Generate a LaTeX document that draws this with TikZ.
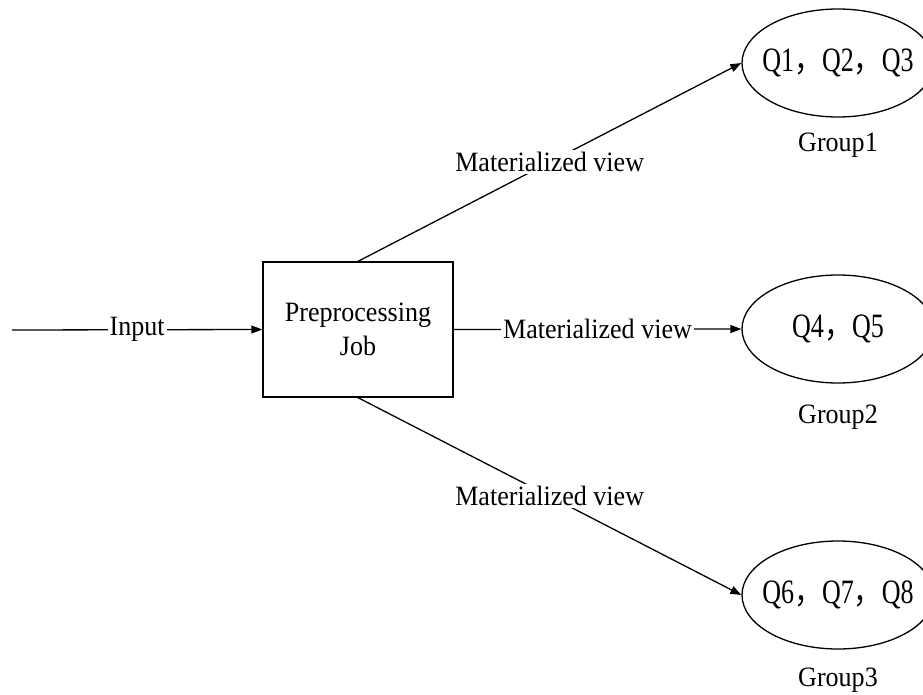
\documentclass[tikz,border=0pt]{standalone}
\usepackage{graphicx}
\usepackage{fontspec}
\setmainfont{Liberation Serif}[FakeStretch=0.93]
\newfontfamily\cjk{Noto Sans CJK SC}
\usetikzlibrary{shapes.geometric,arrows.meta}
\newcommand{\tallq}[1]{\scalebox{1}[1.22]{#1}}
\begin{document}
\begin{tikzpicture}[x=1pt,y=-1pt,
  every node/.style={font=\fontsize{28}{34}\selectfont},
  conn/.style={line width=1.3pt,-{Triangle[length=11pt,width=8pt]}},
  lbl/.style={fill=white,inner sep=2pt},
  jobbox/.style={draw,line width=1.3pt,minimum width=190pt,minimum height=135pt,inner sep=0pt,align=center},
  grp/.style={draw,ellipse,line width=1.3pt,minimum width=192pt,minimum height=108pt,inner sep=0pt},
  grplbl/.style={anchor=base}]
\useasboundingbox (0,0) rectangle (923,695);
\coordinate (in) at (12,330);
\node[jobbox] (job) at (358,329.5) {Preprocessing\\Job};
\node[grp,label={[name=q1]center:\tallq{Q1{\cjk ，}Q2{\cjk ，}Q3}}] (g1) at (838,63) {};
\node[grp,label={[name=q2]center:\tallq{Q4{\cjk ，}Q5}}] (g2) at (838,329) {};
\node[grp,label={[name=q3]center:\tallq{Q6{\cjk ，}Q7{\cjk ，}Q8}}] (g3) at (838,595) {};
\node[grplbl] (l1) at (838,152) {Group1};
\node[grplbl] (l2) at (838,423) {Group2};
\node[grplbl] (l3) at (838,686) {Group3};
\draw[conn] (in) -- node[lbl] {Input} (job.west);
\draw[conn] (job.east) -- node[lbl] {Materialized view} (g2.west);
\draw[conn] (job.north) -- node[lbl] {Materialized view} (g1.west);
\draw[conn] (job.south) -- node[lbl] {Materialized view} (g3.west);
\end{tikzpicture}
\end{document}
